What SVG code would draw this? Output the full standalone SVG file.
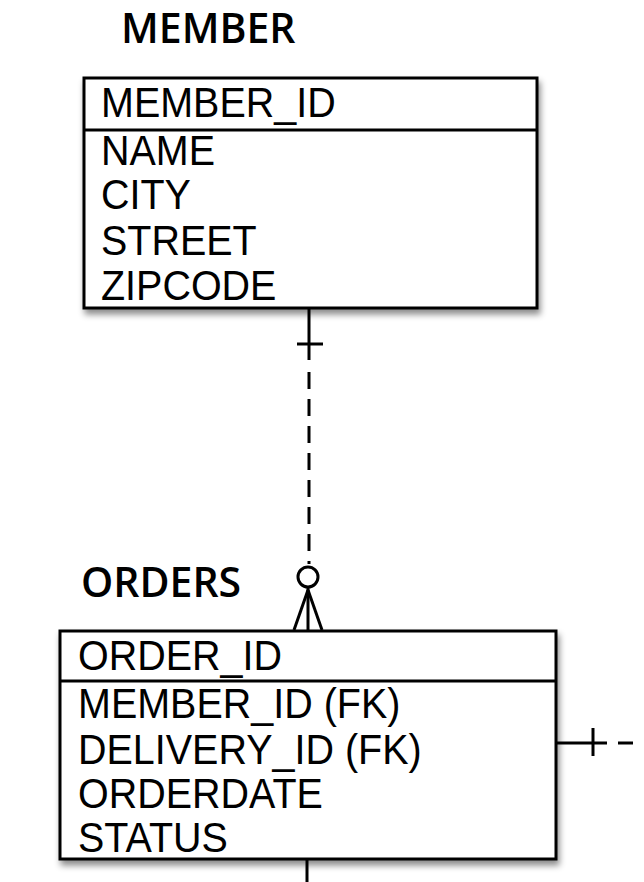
<svg xmlns="http://www.w3.org/2000/svg" width="644" height="882" viewBox="0 0 644 882">
<defs>
<filter id="sh" x="-10%" y="-10%" width="125%" height="130%">
<feDropShadow dx="2" dy="5" stdDeviation="3" flood-color="#000" flood-opacity="0.45"/>
</filter>
<style>
.title{font-family:"Open Sans","Liberation Sans",sans-serif;font-weight:600;font-size:41px;fill:#000}
.attr{font-family:"Liberation Sans",Arial,sans-serif;font-size:42px;fill:#000}
.box{fill:#fff;stroke:#000;stroke-width:3}
.sep{stroke:#000;stroke-width:3}
.ln{stroke:#000;stroke-width:3;fill:none}
.dash{stroke:#000;stroke-width:3;fill:none;stroke-dasharray:17 10}
</style>
</defs>
<rect width="644" height="882" fill="#fff"/>
<g id="member">
<text class="title" x="121" y="43">MEMBER</text>
<rect class="box" x="84" y="78" width="453" height="230" filter="url(#sh)"/>
<line class="sep" x1="84" y1="130" x2="537" y2="130"/>
<text class="attr" transform="translate(101,117) scale(0.94,1)">MEMBER_ID</text>
<text class="attr" transform="translate(101,165) scale(0.94,1)">NAME</text>
<text class="attr" transform="translate(101,209) scale(0.94,1)">CITY</text>
<text class="attr" transform="translate(101,255) scale(0.94,1)">STREET</text>
<text class="attr" transform="translate(101,300) scale(0.94,1)">ZIPCODE</text>
</g>
<g id="orders">
<text class="title" x="81" y="597">ORDERS</text>
<rect class="box" x="60" y="631" width="496" height="228" filter="url(#sh)"/>
<line class="sep" x1="60" y1="681" x2="556" y2="681"/>
<text class="attr" transform="translate(78,670) scale(0.94,1)">ORDER_ID</text>
<text class="attr" transform="translate(78,718) scale(0.94,1)">MEMBER_ID (FK)</text>
<text class="attr" transform="translate(78,764) scale(0.94,1)">DELIVERY_ID (FK)</text>
<text class="attr" transform="translate(78,808) scale(0.94,1)">ORDERDATE</text>
<text class="attr" transform="translate(78,852) scale(0.94,1)">STATUS</text>
</g>
<g id="connectors">
<line class="ln" x1="309" y1="309" x2="309" y2="360"/>
<line class="ln" x1="297" y1="344" x2="323" y2="344"/>
<line class="dash" x1="309" y1="372" x2="309" y2="564"/>
<circle class="ln" cx="308" cy="577" r="10"/>
<line class="ln" x1="308" y1="587" x2="308" y2="630"/>
<line class="ln" x1="308" y1="590" x2="294" y2="630"/>
<line class="ln" x1="308" y1="590" x2="322" y2="630"/>
<line class="ln" x1="557" y1="743" x2="607" y2="743"/>
<line class="ln" x1="593" y1="728" x2="593" y2="756"/>
<line class="ln" x1="618" y1="743" x2="633" y2="743"/>
<line class="ln" x1="307" y1="860" x2="307" y2="882"/>
</g>
</svg>
